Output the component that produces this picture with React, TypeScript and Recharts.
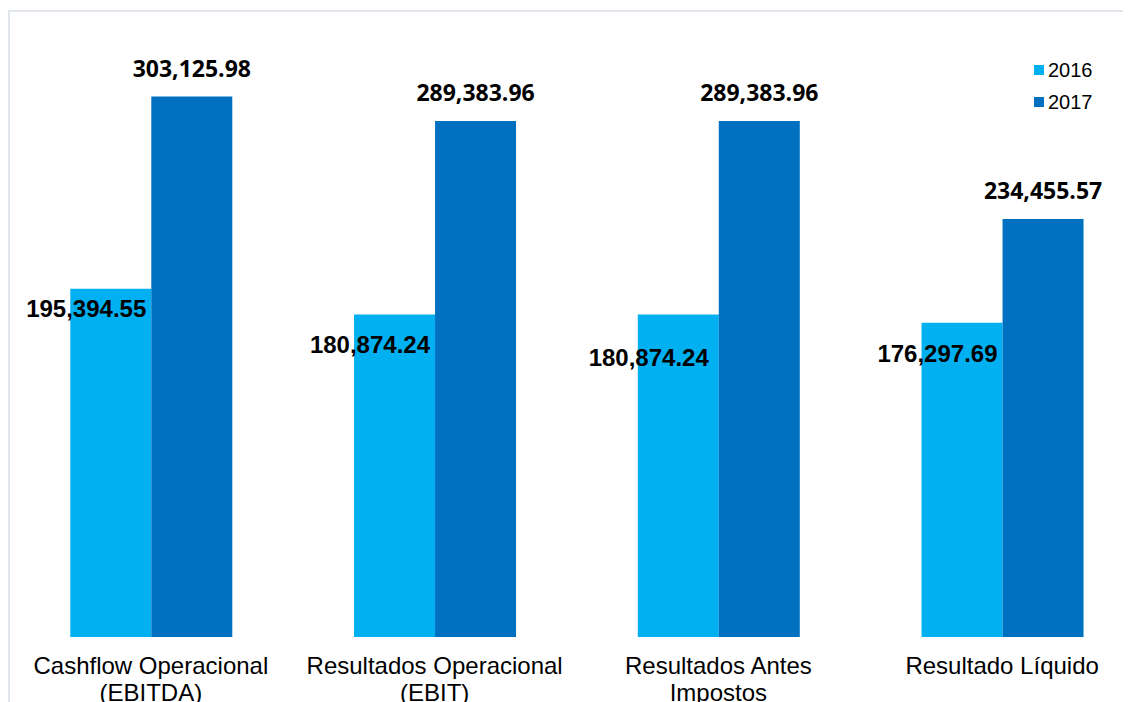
import { Bar, BarChart, LabelList, Legend, XAxis, YAxis } from "recharts";

const categories = [
  "Cashflow Operacional\n(EBITDA)",
  "Resultados Operacional\n(EBIT)",
  "Resultados Antes\nImpostos",
  "Resultado Líquido",
];
const values2016 = [195394.55, 180874.24, 180874.24, 176297.69];
const values2017 = [303125.98, 289383.96, 289383.96, 234455.57];

// how far below the bar top each 2016 label sits, and how far it is pulled in from the bar edge
const label2016Drop = [28, 38, 51, 39];
const label2016Inset = [5, 5, 10, 5];

const data = categories.map((name, i) => ({
  name,
  y2016: values2016[i],
  y2017: values2017[i],
}));

const fmt = (v: number) =>
  v.toLocaleString("en-US", { minimumFractionDigits: 2, maximumFractionDigits: 2 });

const C2016 = "#00B0F0";
const C2017 = "#0070C0";

function Label2016(props: any) {
  const { x, y, width, index, value } = props;
  return (
    <text
      x={x + width - label2016Inset[index]}
      y={y + label2016Drop[index]}
      textAnchor="end"
      fill="#000"
      style={{ fontFamily: "'Liberation Sans', Arial, sans-serif", fontWeight: 700, fontSize: 24 }}
    >
      {fmt(value)}
    </text>
  );
}

function Label2017(props: any) {
  const { x, y, width, value } = props;
  return (
    <text
      x={x + width / 2}
      y={y - 20}
      textAnchor="middle"
      fill="#000"
      style={{ fontFamily: "'Open Sans', sans-serif", fontWeight: 700, fontSize: 23 }}
    >
      {fmt(value)}
    </text>
  );
}

function CategoryTick(props: any) {
  const { x, y, payload } = props;
  const lines = String(payload.value).split("\n");
  return (
    <text
      x={x}
      y={y + 37}
      textAnchor="middle"
      fill="#000"
      style={{ fontFamily: "'Liberation Sans', Arial, sans-serif", fontSize: 24 }}
    >
      {lines.map((l, i) => (
        <tspan key={i} x={x} dy={i === 0 ? 0 : 27}>
          {l}
        </tspan>
      ))}
    </text>
  );
}

function LegendBox() {
  const items = [
    { label: "2016", color: C2016 },
    { label: "2017", color: C2017 },
  ];
  return (
    <div style={{ fontFamily: "'Liberation Sans', Arial, sans-serif", fontSize: 20, color: "#000" }}>
      {items.map((it) => (
        <div key={it.label} style={{ display: "flex", alignItems: "center", height: 32 }}>
          <span style={{ width: 10, height: 10, background: it.color, marginRight: 4 }} />
          <span>{it.label}</span>
        </div>
      ))}
    </div>
  );
}

export default function App() {
  return (
    <div style={{ position: "relative", width: 1123, height: 694, overflow: "hidden", background: "#fff" }}>
      <div
        style={{
          position: "absolute",
          left: 0,
          top: 2,
          right: 0,
          bottom: 0,
          borderTop: "2px solid #e1e5ec",
          borderLeft: "2px solid #e1e5ec",
        }}
      />
      <BarChart
        width={1136}
        height={720}
        data={data}
        margin={{ top: 5, right: 0, left: 1, bottom: 0 }}
        barCategoryGap="21.6%"
        barGap={0}
      >
        <XAxis
          dataKey="name"
          axisLine={false}
          tickLine={false}
          tickSize={0}
          tickMargin={0}
          height={91}
          interval={0}
          tick={<CategoryTick />}
        />
        <YAxis hide domain={[0, 350000]} />
        <Legend
          layout="horizontal"
          verticalAlign="middle"
          align="center"
          content={<LegendBox />}
          wrapperStyle={{ position: "absolute", left: 1026, top: 46, width: 100 }}
        />
        <Bar dataKey="y2016" name="2016" fill={C2016} isAnimationActive={false}>
          <LabelList dataKey="y2016" content={<Label2016 />} />
        </Bar>
        <Bar dataKey="y2017" name="2017" fill={C2017} isAnimationActive={false}>
          <LabelList dataKey="y2017" content={<Label2017 />} />
        </Bar>
      </BarChart>
    </div>
  );
}
